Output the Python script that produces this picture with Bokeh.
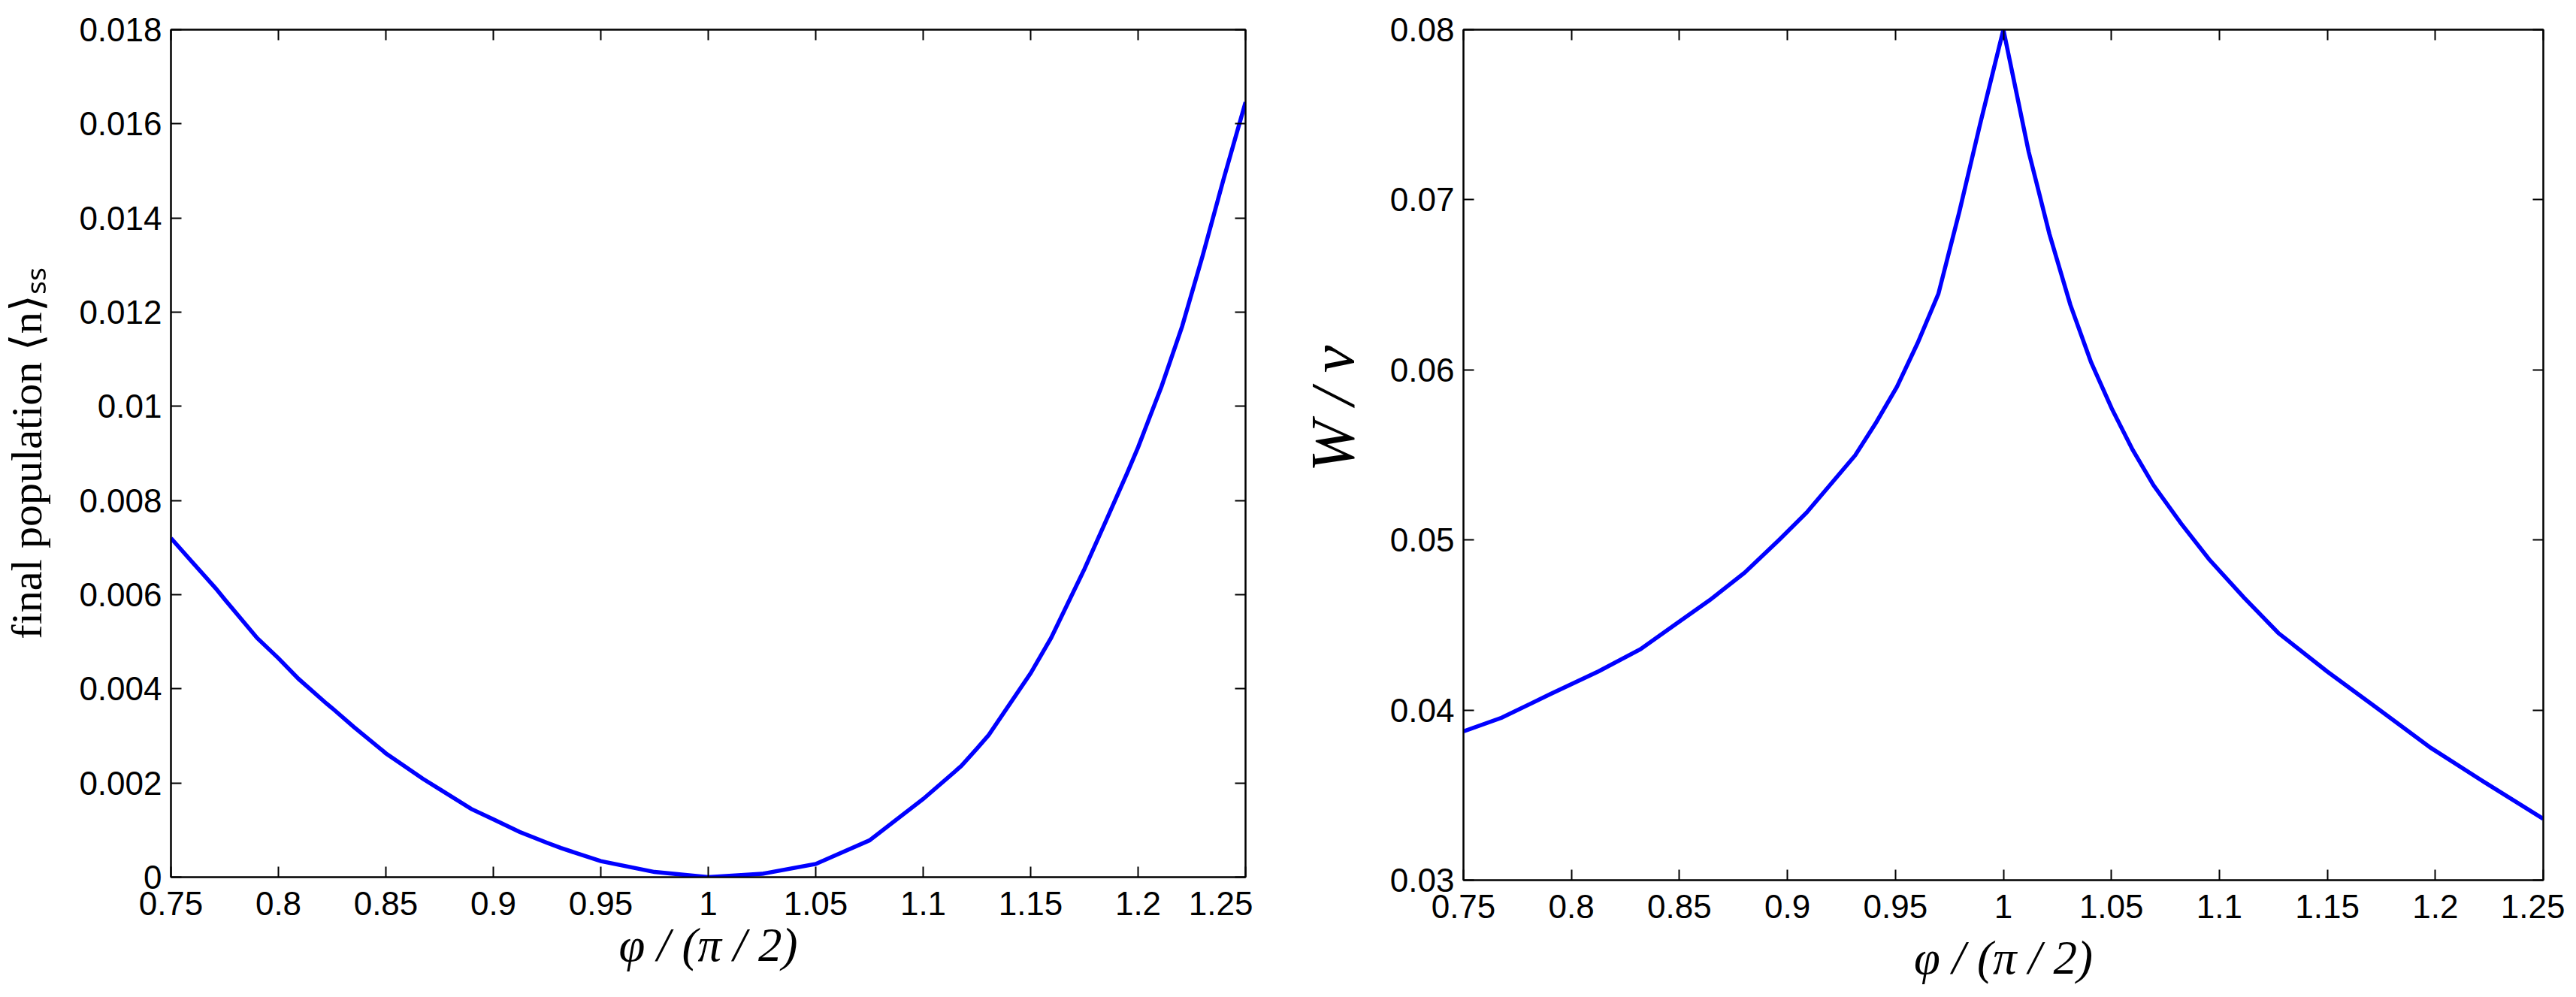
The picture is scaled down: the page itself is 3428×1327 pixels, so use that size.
from bokeh.plotting import figure
from bokeh.models import Range1d, LinearAxis, FixedTicker
from bokeh.layouts import row
from bokeh.embed import file_html
from bokeh.resources import INLINE

# ---------------- data ----------------
phi_left = [0.75, 0.7709, 0.775, 0.7901, 0.8, 0.8094, 0.8223, 0.825, 0.8351, 0.85,
            0.8672, 0.875, 0.8897, 0.9, 0.9122, 0.925, 0.9314, 0.95, 0.975, 1.0,
            1.025, 1.05, 1.075, 1.1, 1.1177, 1.125, 1.1305, 1.15, 1.1595, 1.175,
            1.1852, 1.1948, 1.2, 1.2109, 1.2205, 1.2301, 1.2398, 1.25]
n_ss = [0.00720, 0.00613, 0.00590, 0.00508, 0.00465, 0.00421, 0.00369, 0.00359,
        0.00319, 0.00263, 0.00209, 0.00187, 0.00145, 0.00123, 0.00096, 0.00073,
        0.00062, 0.00034, 0.00011, 0.0, 0.00007, 0.00028, 0.00078, 0.00166,
        0.00236, 0.00273, 0.00302, 0.00433, 0.00508, 0.00654, 0.00758, 0.00857,
        0.00913, 0.01042, 0.01170, 0.01321, 0.01483, 0.01646]

phi_right = [0.75, 0.7677, 0.7901, 0.8126, 0.8319, 0.8479, 0.864, 0.8801, 0.8961,
             0.9089, 0.9218, 0.9314, 0.9411, 0.9507, 0.9603, 0.9699, 0.9796, 0.9892,
             1.0, 1.0117, 1.0213, 1.031, 1.0406, 1.0502, 1.0598, 1.0695, 1.0823,
             1.0952, 1.1113, 1.1273, 1.1498, 1.1722, 1.1979, 1.2236, 1.25]
w_nu = [0.03875, 0.03955, 0.04093, 0.04228, 0.04357, 0.04502, 0.04646, 0.04807,
        0.05000, 0.05161, 0.05354, 0.05498, 0.05691, 0.05900, 0.06158, 0.06447,
        0.06929, 0.07444, 0.08000, 0.07283, 0.06800, 0.06383, 0.06045, 0.05772,
        0.05531, 0.05322, 0.05096, 0.04887, 0.04662, 0.04453, 0.04228, 0.04019,
        0.03778, 0.03569, 0.03360]

x_ticks = [0.75, 0.8, 0.85, 0.9, 0.95, 1.0, 1.05, 1.1, 1.15, 1.2, 1.25]
x_tick_labels = ["0.75", "0.8", "0.85", "0.9", "0.95", "1", "1.05", "1.1", "1.15", "1.2", "1.25"]
left_y_ticks = [0.0, 0.002, 0.004, 0.006, 0.008, 0.01, 0.012, 0.014, 0.016, 0.018]
left_y_labels = ["0", "0.002", "0.004", "0.006", "0.008", "0.01", "0.012", "0.014", "0.016", "0.018"]
right_y_ticks = [0.03, 0.04, 0.05, 0.06, 0.07, 0.08]
right_y_labels = ["0.03", "0.04", "0.05", "0.06", "0.07", "0.08"]

x_label = "φ / (π / 2)"
left_y_label = "final population ⟨n⟩ₛₛ"
right_y_label = "\u00a0" * 6 + "W / ν"   # label sits above the axis centre

TICK_FONT = "Liberation Sans"
SERIF = "Liberation Serif"
BLUE = "#0000ff"


def style_axis(ax, ticks, labels, show_labels=True):
    ax.ticker = FixedTicker(ticks=ticks)
    ax.major_label_overrides = {t: (l if show_labels else "") for t, l in zip(ticks, labels)}
    ax.major_tick_in = 14
    ax.major_tick_out = 0
    ax.minor_tick_line_color = None
    ax.major_tick_line_color = "black"
    ax.major_tick_line_width = 2
    ax.axis_line_color = "black"
    ax.axis_line_width = 2
    ax.major_label_text_font = TICK_FONT
    ax.major_label_text_font_size = "44px"
    ax.major_label_text_color = "black"
    if not show_labels:
        ax.major_label_standoff = 0
        ax.major_label_text_font_size = "1px"


def make_plot(xs, ys, y_range, y_ticks, y_labels, frame_w, frame_h, borders,
              ylab, ylab_size, ylab_style, ylab_standoff, xlab_standoff):
    bl, br, bt, bb = borders
    p = figure(frame_width=frame_w, frame_height=frame_h,
               x_range=Range1d(0.75, 1.25), y_range=Range1d(*y_range),
               output_backend="svg", toolbar_location=None,
               min_border_left=bl, min_border_right=br,
               min_border_top=bt, min_border_bottom=bb,
               background_fill_color="white", border_fill_color="white",
               x_axis_location=None, y_axis_location=None)
    p.grid.visible = False
    p.outline_line_color = "black"
    p.outline_line_width = 2

    xb = LinearAxis()
    style_axis(xb, x_ticks, x_tick_labels)
    xb.major_label_standoff = 19
    xb.axis_label = x_label
    xb.axis_label_text_font = SERIF
    xb.axis_label_text_font_style = "italic"
    xb.axis_label_text_font_size = "63px"
    xb.axis_label_text_color = "black"
    xb.axis_label_standoff = xlab_standoff
    p.add_layout(xb, "below")

    yl = LinearAxis()
    style_axis(yl, y_ticks, y_labels)
    yl.major_label_standoff = 12
    yl.axis_label = ylab
    yl.axis_label_text_font = SERIF
    yl.axis_label_text_font_style = ylab_style
    yl.axis_label_text_font_size = f"{ylab_size}px"
    yl.axis_label_text_color = "black"
    yl.axis_label_standoff = ylab_standoff
    p.add_layout(yl, "left")

    xt = LinearAxis()
    style_axis(xt, x_ticks, x_tick_labels, show_labels=False)
    p.add_layout(xt, "above")

    yr = LinearAxis()
    style_axis(yr, y_ticks, y_labels, show_labels=False)
    p.add_layout(yr, "right")

    p.line(xs, ys, line_color=BLUE, line_width=5.5, line_join="miter")
    return p


# left: frame 1430 x 1128 at page (234, 47)
p1 = make_plot(phi_left, n_ss, (0.0, 0.018), left_y_ticks, left_y_labels,
               1430, 1128, (226, 10, 39, 144),
               left_y_label, 58, "normal", 34, 2)

# right: frame 1437 x 1132 at page (1954, 30)
p2 = make_plot(phi_right, w_nu, (0.03, 0.08), right_y_ticks, right_y_labels,
               1437, 1132, (280, 29, 22, 157),
               right_y_label, 82, "italic", 28, 15)

layout = row(p1, p2, spacing=0)
open("out.html", "w").write(file_html(layout, INLINE))
